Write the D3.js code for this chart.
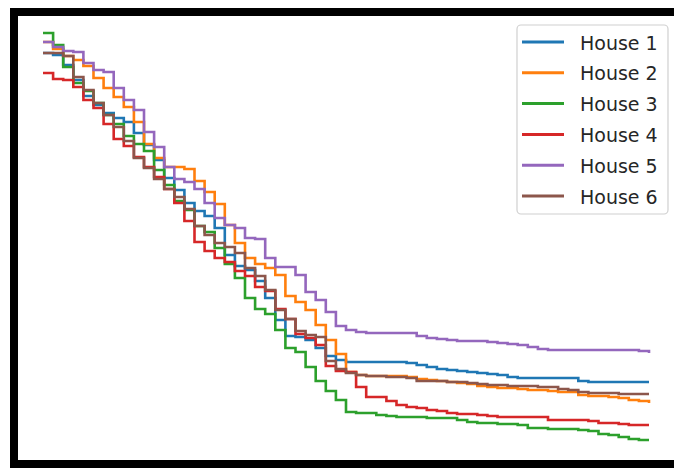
<!DOCTYPE html>
<html>
<head>
<meta charset="utf-8">
<script src="https://cdn.jsdelivr.net/npm/d3@7"></script>
<style>
  html, body { margin: 0; padding: 0; background: #fff; }
  svg { display: block; }
</style>
</head>
<body>
<svg id="chart" width="674" height="468"></svg>
<script>
const seriesNames = ["House 1", "House 2", "House 3", "House 4", "House 5", "House 6"];
const colors = ["#1f77b4", "#ff7f0e", "#2ca02c", "#d62728", "#9467bd", "#8c564b"];

const house1 = [407,405,395,380,364,355,347,342,338,327,315,300,282,270,257,249,244,232,205,194,190,179,162,140,124,123,120,112,104,100,98,98,98,98,98,98,97,95,93,91,90,89,88,87,86,85,83,82,82,82,82,82,82,79,78,78,78,78,78,78,78];
const house2 = [418,411,404,400,394,382,372,363,353,338,316,302,293,293,291,279,268,256,235,217,202,196,192,185,164,158,150,135,120,106,88,85,84,84,84,84,83,81,80,79,78,77,76,74,73,72,72,71,70,70,69,68,68,65,64,64,63,62,60,59,57];
const house3 = [427,415,393,377,369,357,345,336,324,316,309,290,275,259,250,234,228,212,196,182,162,151,146,130,112,108,93,79,69,60,48,47,47,45,44,43,43,43,42,42,42,40,38,37,37,36,36,35,32,32,31,31,31,30,29,26,25,23,21,20,20];
const house4 = [387,381,380,373,360,352,336,321,314,303,293,283,271,257,239,218,209,202,198,189,184,173,169,151,141,126,122,115,94,89,88,73,63,63,59,55,53,52,50,49,47,46,46,45,44,43,43,43,43,43,40,40,40,40,39,37,37,36,35,35,35];
const house5 = [418,413,409,408,397,390,388,372,360,350,328,313,293,281,278,271,257,242,235,232,222,221,202,193,193,185,168,160,148,134,130,128,127,127,127,127,127,124,122,121,120,119,119,119,118,117,116,115,113,111,110,110,110,110,110,110,110,110,110,109,107];
const house6 = [407,407,404,383,370,357,345,333,319,302,292,281,271,263,251,234,225,217,213,207,192,184,170,150,141,129,125,123,99,91,87,85,84,84,83,83,82,79,79,79,78,78,77,76,75,75,74,74,74,73,73,71,70,68,67,67,67,66,66,66,66];

const allSeries = [house1, house2, house3, house4, house5, house6];

const svg = d3.select("#chart");
const W = 674, H = 468;

const x = d3.scaleLinear().domain([0, house1.length - 1]).range([43, 649]);
const y = d3.scaleLinear().domain([0, 440]).range([460, 20]);

const line = d3.line()
  .x((d, i) => x(i))
  .y(d => y(d))
  .curve(d3.curveStepAfter);

const g = svg.append("g");
allSeries.forEach((s, k) => {
  g.append("path")
    .datum(s)
    .attr("fill", "none")
    .attr("stroke", colors[k])
    .attr("stroke-width", 2.6)
    .attr("stroke-linejoin", "miter")
    .attr("d", line);
});

// Frame (axes spines)
svg.append("rect")
  .attr("x", 14).attr("y", 12)
  .attr("width", 720).attr("height", 452)
  .attr("fill", "none")
  .attr("stroke", "#000")
  .attr("stroke-width", 8);

// Legend
const leg = svg.append("g");
leg.append("rect")
  .attr("x", 517).attr("y", 25)
  .attr("width", 151).attr("height", 189)
  .attr("rx", 4).attr("ry", 4)
  .attr("fill", "#fff")
  .attr("fill-opacity", 0.85)
  .attr("stroke", "#d0d0d0")
  .attr("stroke-width", 1.2);

seriesNames.forEach((name, k) => {
  const cy = 42 + k * 30.8;
  leg.append("line")
    .attr("x1", 522).attr("x2", 564)
    .attr("y1", cy).attr("y2", cy)
    .attr("stroke", colors[k])
    .attr("stroke-width", 3);
  leg.append("text")
    .attr("x", 580).attr("y", cy + 7.5)
    .attr("font-family", "DejaVu Sans")
    .attr("font-size", 19)
    .attr("fill", "#262626")
    .text(name);
});
</script>
</body>
</html>
